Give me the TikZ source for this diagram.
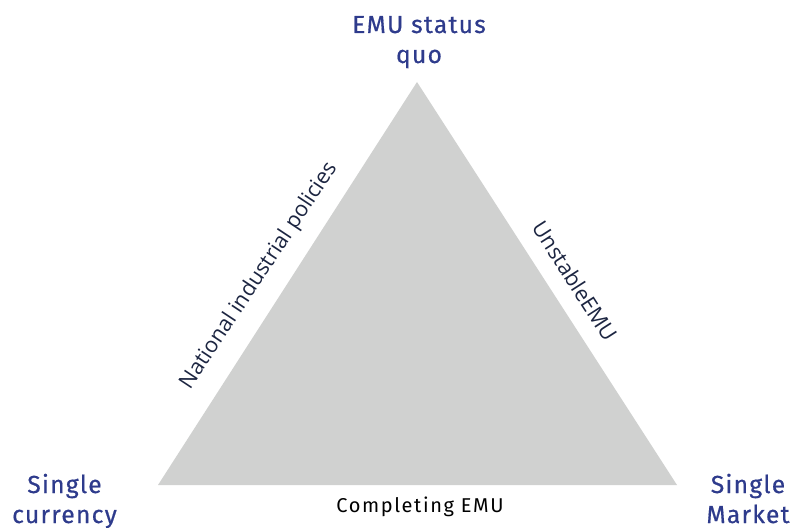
\documentclass[tikz,border=0pt]{standalone}
\usepackage{fontspec}
\setmainfont{Fira Sans}
\newfontfamily\cornerfont{Fira Sans}[FakeBold=0.6]
\newfontfamily\sidefont{Open Sans}
\definecolor{tri}{HTML}{D0D1D0}
\definecolor{corner}{HTML}{2E3B8C}
\definecolor{side}{HTML}{1C2541}
\begin{document}
\begin{tikzpicture}[x=0.75pt,y=-0.75pt,
  cornerlbl/.style={text=corner,font=\cornerfont\addfontfeature{LetterSpace=5}\fontsize{18.5}{22.5}\selectfont,align=center,inner sep=0pt},
  sidelbl/.style={text=side,font=\sidefont\fontsize{16.2}{18}\selectfont,inner sep=0pt},
  bottomlbl/.style={text=black,font=\addfontfeature{LetterSpace=8}\fontsize{15}{16}\selectfont,inner sep=0pt}]
\useasboundingbox (0,0) rectangle (793,528);
\coordinate (T) at (417,82);
\coordinate (L) at (158,485);
\coordinate (R) at (677,485);
\fill[tri] (T) -- (L) -- (R) -- cycle;
\node[cornerlbl,anchor=base] (top) at (419,63) {EMU status\\quo};
\node[cornerlbl,anchor=base] (left) at (64.5,523) {Single\\currency};
\node[cornerlbl,anchor=base] (right) at (748,523) {Single\\Market};
\node[bottomlbl,anchor=base] (bottom) at (420,512) {Completing EMU};
\node[sidelbl,rotate=56.5] (ls) at (259,276) {National industrial policies};
\node[sidelbl,rotate=-57.3] (rs) at (575,281) {UnstableEMU};
\end{tikzpicture}
\end{document}
